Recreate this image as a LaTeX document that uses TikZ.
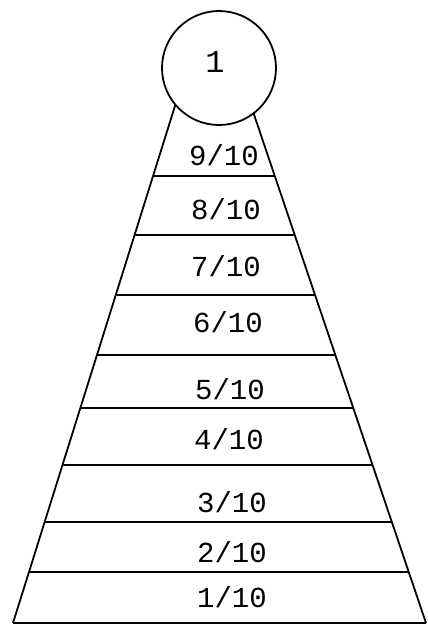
\documentclass[tikz,border=0pt]{standalone}
\usepackage{fontspec}
\setmonofont{Liberation Mono}
\begin{document}
\begin{tikzpicture}[x=1pt,y=-1pt,
  edge/.style={line width=1.8pt, black},
  lbl/.style={font=\ttfamily\fontsize{29}{29}\selectfont, inner sep=0pt, anchor=center},
  topcircle/.style={circle, draw, line width=1.8pt, fill=white, minimum size=114pt, inner sep=0pt}]
\useasboundingbox (0,0) rectangle (428,625);
% triangle sides
\coordinate (bl) at (13,623);
\coordinate (br) at (426,623);
\coordinate (lt) at (180,90);
\coordinate (rt) at (245.7,90);
\draw[edge] (bl) -- (lt);
\draw[edge] (br) -- (rt);
\draw[edge] (bl) -- (br);
% horizontal dividers
\foreach \yy/\n in {176/a,235/b,295/c,355/d,408/e,465/f,522/g,572/h}{
  \coordinate (l\n) at (intersection of bl--lt and 0,\yy--100,\yy);
  \coordinate (r\n) at (intersection of br--rt and 0,\yy--100,\yy);
  \draw[edge] (l\n) -- (r\n);
}
% apex circle
\node[topcircle] (top) at (219,68) {};
\node[lbl, font=\ttfamily\fontsize{32}{32}\selectfont] (one) at (215,62) {1};
% labels
\node[lbl] (n9) at (224,155) {9/10};
\node[lbl] (n8) at (226,209) {8/10};
\node[lbl] (n7) at (226,266) {7/10};
\node[lbl] (n6) at (228,322) {6/10};
\node[lbl] (n5) at (230,389) {5/10};
\node[lbl] (n4) at (229,439) {4/10};
\node[lbl] (n3) at (232,502) {3/10};
\node[lbl] (n2) at (232,552) {2/10};
\node[lbl] (n1) at (232,597) {1/10};
\end{tikzpicture}
\end{document}
